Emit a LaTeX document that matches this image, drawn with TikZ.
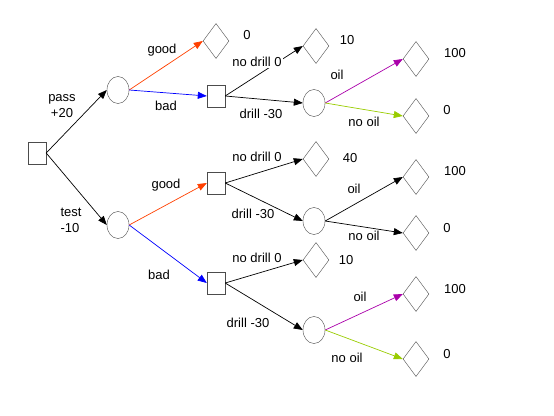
\documentclass[tikz,border=0pt]{standalone}
\usepackage{fontspec}
\setmainfont{Liberation Sans}
\usetikzlibrary{shapes.geometric,arrows.meta}
\definecolor{goodc}{RGB}{255,64,0}
\definecolor{badc}{RGB}{0,0,255}
\definecolor{oilc}{RGB}{170,0,170}
\definecolor{nooilc}{RGB}{153,204,0}
\begin{document}
\begin{tikzpicture}[x=1pt,y=1pt,yscale=-1,
  every node/.style={font=\fontsize{13}{16}\selectfont},
  dec/.style={draw=black!70,rectangle,minimum width=18pt,minimum height=22pt,inner sep=0pt},
  chance/.style={draw=black!70,ellipse,minimum width=22pt,minimum height=27pt,inner sep=0pt},
  leaf/.style={draw=black!70,diamond,minimum width=26pt,minimum height=35pt,inner sep=0pt},
  lbl/.style={fill=white,inner sep=1pt},
  edge/.style={-{Triangle[length=9pt,width=7pt]},line width=0.7pt}]
\useasboundingbox (0,0) rectangle (554,415);

\node[dec] (root) at (37,153) {};
\node[chance] (pass) at (118,90) {};
\node[chance] (test) at (118,225) {};
\node[leaf] (pg) at (216,41) {};
\node[dec] (pb) at (216,96) {};
\node[dec] (tg) at (216,183) {};
\node[dec] (tb) at (216,283) {};
\node[leaf] (pbn) at (316,46) {};
\node[chance] (pbd) at (314,103) {};
\node[leaf] (pbo) at (416,59) {};
\node[leaf] (pbx) at (416,116) {};
\node[leaf] (tgn) at (316,159) {};
\node[chance] (tgd) at (314,221) {};
\node[leaf] (tgo) at (416,177) {};
\node[leaf] (tgx) at (416,233) {};
\node[leaf] (tbn) at (316,260) {};
\node[chance] (tbd) at (314,330) {};
\node[leaf] (tbo) at (416,294) {};
\node[leaf] (tbx) at (416,359) {};

\draw[edge] (root.east) -- (pass.west);
\draw[edge] (root.east) -- (test.west);
\draw[edge,goodc] (pass.east) -- (pg.west);
\draw[edge,badc] (pass.east) -- (pb.west);
\draw[edge,goodc] (test.east) -- (tg.west);
\draw[edge,badc] (test.east) -- (tb.west);
\draw[edge] (pb.east) -- (pbn.west);
\draw[edge] (pb.east) -- (pbd.west);
\draw[edge,oilc] (pbd.east) -- (pbo.west);
\draw[edge,nooilc] (pbd.east) -- (pbx.west);
\draw[edge] (tg.east) -- (tgn.west);
\draw[edge] (tg.east) -- (tgd.west);
\draw[edge] (tgd.east) -- (tgo.west);
\draw[edge] (tgd.east) -- (tgx.west);
\draw[edge] (tb.east) -- (tbn.west);
\draw[edge] (tb.east) -- (tbd.west);
\draw[edge,oilc] (tbd.east) -- (tbo.west);
\draw[edge,nooilc] (tbd.east) -- (tbx.west);

\node[align=center] (lpass) at (62,106) {pass\\+20};
\node[align=left,anchor=west] (ltest) at (57,220) {test\\-10};
\node[lbl] (lpg) at (162,50) {good};
\node[lbl] (lpb) at (166,106) {bad};
\node[lbl] (ltg) at (166,185) {good};
\node[lbl] (ltb) at (159,275) {bad};
\node[lbl] (lpbn) at (257,62) {no drill 0};
\node[lbl] (lpbd) at (261,114) {drill -30};
\node[lbl] (ltgn) at (257,157) {no drill 0};
\node[lbl] (ltgd) at (253,214) {drill -30};
\node[lbl] (ltbn) at (257,258) {no drill 0};
\node[lbl] (ltbd) at (248,323) {drill -30};
\node[lbl] (lpbo) at (337,75) {oil};
\node[lbl] (lpbx) at (364,122) {no oil};
\node[lbl] (ltgo) at (354,189) {oil};
\node[lbl] (ltgx) at (364,236) {no oil};
\node[lbl] (ltbo) at (360,297) {oil};
\node[lbl] (ltbx) at (347,358) {no oil};

\node (vpg) at (247,35) {0};
\node (vpbn) at (347,40) {10};
\node (vpbo) at (455,53) {100};
\node (vpbx) at (447,110) {0};
\node (vtgn) at (350,158) {40};
\node (vtgo) at (455,171) {100};
\node (vtgx) at (447,228) {0};
\node (vtbn) at (346,260) {10};
\node (vtbo) at (455,289) {100};
\node (vtbx) at (447,354) {0};

\end{tikzpicture}
\end{document}
